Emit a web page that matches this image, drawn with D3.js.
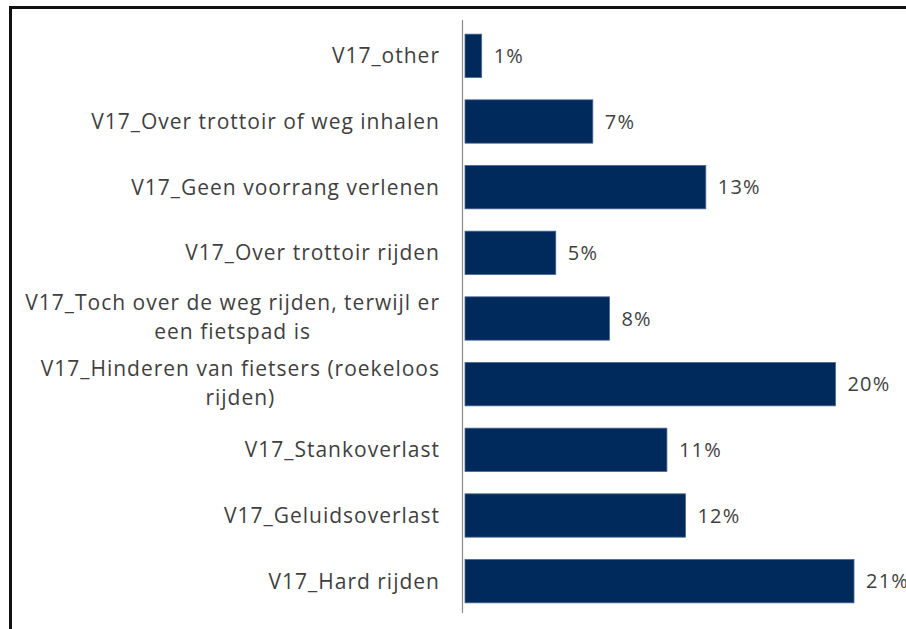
<!DOCTYPE html>
<html>
<head>
<meta charset="utf-8">
<script src="https://cdn.jsdelivr.net/npm/d3@7"></script>
<style>
  html, body { margin: 0; padding: 0; background: #fff; }
  svg text { font-family: "Open Sans", Lato, sans-serif; fill: #3f3f3f; }
</style>
</head>
<body>
<div id="chart"></div>
<script>
// Categories, top to bottom as drawn
const categories = [
  'V17_other',
  'V17_Over trottoir of weg inhalen',
  'V17_Geen voorrang verlenen',
  'V17_Over trottoir rijden',
  'V17_Toch over de weg rijden, terwijl er een fietspad is',
  'V17_Hinderen van fietsers (roekeloos rijden)',
  'V17_Stankoverlast',
  'V17_Geluidsoverlast',
  'V17_Hard rijden'
];

// Share in percent
const values = [0.9, 6.9, 13.0, 4.9, 7.8, 20.0, 10.9, 11.9, 21.0];

const width  = 906;
const height = 629;
const margin = { top: 23, right: 52, bottom: 15, left: 465 };

const svg = d3.select('#chart')
  .append('svg')
  .attr('width', width)
  .attr('height', height);

// outer frame
svg.append('rect')
  .attr('x', 10.5)
  .attr('y', 7.5)
  .attr('width', 910)
  .attr('height', 640)
  .attr('fill', 'none')
  .attr('stroke', '#111')
  .attr('stroke-width', 3);

const x = d3.scaleLinear()
  .domain([0, 21])
  .range([margin.left, 854]);

const y = d3.scaleBand()
  .domain(categories)
  .range([margin.top, height - margin.bottom])
  .paddingInner(0.34)
  .paddingOuter(0.17);

const data = categories.map((c, i) => ({ cat: c, val: values[i] }));

svg.append('g')
  .selectAll('rect')
  .data(data)
  .join('rect')
  .attr('x', x(0))
  .attr('y', d => y(d.cat))
  .attr('width', d => x(d.val) - x(0))
  .attr('height', y.bandwidth())
  .attr('fill', '#002a5c')
  .attr('stroke', '#4a6690')
  .attr('stroke-width', 0.8);

// value labels
svg.append('g')
  .selectAll('text')
  .data(data)
  .join('text')
  .attr('x', d => x(d.val) + 12)
  .attr('y', d => y(d.cat) + y.bandwidth() / 2)
  .attr('dy', '0.35em')
  .style('font-size', '20px')
  .style('letter-spacing', '1.2px')
  .text(d => Math.round(d.val) + '%');

// category axis line (no ticks)
svg.append('line')
  .attr('x1', margin.left - 2.5)
  .attr('x2', margin.left - 2.5)
  .attr('y1', 20)
  .attr('y2', 613)
  .attr('stroke', '#8c8c8c')
  .attr('stroke-width', 1.2);

// category labels, wrapped like Excel does
const labelRight = 440;
const maxLabelWidth = 425;
const lineH = 29;

const labels = svg.append('g')
  .selectAll('text')
  .data(data)
  .join('text')
  .style('font-size', '21px')
  .style('letter-spacing', '1px');

labels.each(function(d) {
  const t = d3.select(this);
  const words = d.cat.split(' ');
  const lines = [];
  let cur = [];
  const probe = t.append('tspan');
  for (const w of words) {
    const test = cur.concat(w).join(' ');
    probe.text(test);
    if (probe.node().getComputedTextLength() > maxLabelWidth && cur.length) {
      lines.push(cur.join(' '));
      cur = [w];
    } else {
      cur.push(w);
    }
  }
  lines.push(cur.join(' '));
  probe.remove();

  // measure widest line so the block sits right-aligned
  let widest = 0;
  for (const l of lines) {
    const m = t.append('tspan').text(l);
    widest = Math.max(widest, m.node().getComputedTextLength());
    m.remove();
  }
  const cx = lines.length > 1 ? labelRight - widest / 2 : labelRight;
  const cy = y(d.cat) + y.bandwidth() / 2 - (lines.length - 1) * lineH / 2 - (lines.length > 1 ? 1 : 0);

  t.attr('text-anchor', lines.length > 1 ? 'middle' : 'end');
  lines.forEach((l, i) => {
    t.append('tspan')
      .attr('x', cx)
      .attr('y', cy + i * lineH)
      .attr('dy', '0.35em')
      .text(l);
  });
});
</script>
</body>
</html>
